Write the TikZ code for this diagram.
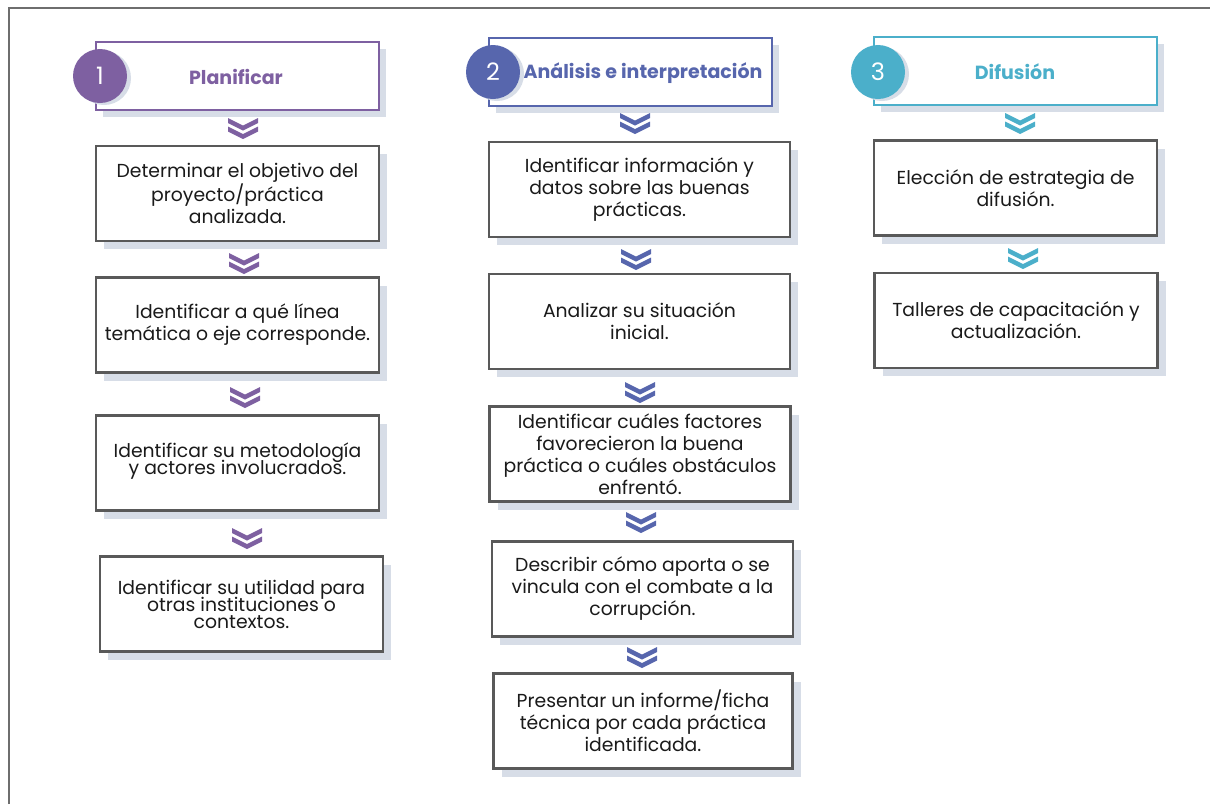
\documentclass[tikz,border=0pt]{standalone}
\usepackage{fontspec}
\setmainfont{Poppins}
\usetikzlibrary{shadows}
\definecolor{purp}{HTML}{7E60A1}
\definecolor{blu}{HTML}{5766AD}
\definecolor{tea}{HTML}{4BAFCA}
\definecolor{shad}{HTML}{D7DDE7}
\definecolor{bord}{HTML}{595959}
\definecolor{txt}{HTML}{1A1A1A}
\definecolor{frame}{HTML}{6E6E6E}
\newcommand\mytightfont{\fontsize{18.8}{17}\selectfont\setlength{\lineskiplimit}{-100pt}}
\begin{document}
\begin{tikzpicture}[x=1pt,y=-1pt,
  stepbox/.style={draw=bord, line width=2.2pt, fill=white, minimum width=#1, minimum height=95pt,
    inner sep=0pt, align=center, text=txt, font=\fontsize{18.8}{22}\selectfont,
    general shadow={fill=shad, shadow xshift=8pt, shadow yshift=-8pt}},
  stepbox/.default=283pt,
  tight/.style={font=\mytightfont},
  headbox/.style={draw=#1, line width=1.8pt, fill=white, minimum width=283pt, minimum height=68pt,
    inner sep=0pt, general shadow={fill=shad, shadow xshift=7pt, shadow yshift=-7pt}},
  headtext/.style={text=#1, font=\bfseries\fontsize{19}{22}\selectfont, inner sep=0pt},
  numcirc/.style={circle, fill=#1, minimum size=54pt, inner sep=0pt, text=white,
    font=\fontsize{24}{28}\selectfont,
    general shadow={fill=shad, shadow xshift=4pt, shadow yshift=-2pt}},
  chevron/.pic={
    \fill (-15,0) -- (0,7.5) -- (15,0) -- (15,5) -- (0,12.5) -- (-15,5) -- cycle;
    \fill (-15,8.5) -- (0,16) -- (15,8.5) -- (15,13.5) -- (0,21) -- (-15,13.5) -- cycle;
  }
]
\useasboundingbox (0,0) rectangle (1210,804);
% outer frame
\draw[frame, line width=2.5pt] (9,804) -- (9,8) -- (1210,8);

% ---------- column 1 ----------
\node[headbox=purp] (h1) at (237.5,76) {};
\node[numcirc=purp] (c1) at (100,76) {1};
\node[headtext=purp] (t1) at (236,77) {Planificar};
\node[stepbox] (a1) at (237.5,193.5) {Determinar el objetivo del\\proyecto/práctica\\analizada.};
\node[stepbox] (a2) at (237.5,325) {Identificar a qué línea\\temática o eje corresponde.};
\node[stepbox, tight] (a3) at (237.5,463) {Identificar su metodología\\y actores involucrados.\\[-8pt]};
\node[stepbox, tight] (a4) at (241.5,604) {Identificar su utilidad para\\otras instituciones o\\contextos.};
\begin{scope}[purp]
\pic at (243,118) {chevron};
\pic at (244,253) {chevron};
\pic at (245,387) {chevron};
\pic at (247,528) {chevron};
\end{scope}

% ---------- column 2 ----------
\node[headbox=blu] (h2) at (630.5,72) {};
\node[numcirc=blu] (c2) at (493,72) {2};
\node[headtext=blu] (t2) at (643,73) {Análisis e interpretación};
\node[stepbox=301pt] (b1) at (639.5,189.5) {Identificar información y\\datos sobre las buenas\\prácticas.};
\node[stepbox=301pt] (b2) at (639.5,321.5) {Analizar su situación\\inicial.};
\node[stepbox=301pt] (b3) at (640,454) {Identificar cuáles factores\\favorecieron la buena\\práctica o cuáles obstáculos\\enfrentó.};
\node[stepbox=301pt] (b4) at (642.5,589) {Describir cómo aporta o se\\vincula con el combate a la\\corrupción.};
\node[stepbox=299pt] (b5) at (643,721) {Presentar un informe/ficha\\técnica por cada práctica\\identificada.};
\begin{scope}[blu]
\pic at (635,113) {chevron};
\pic at (636,249) {chevron};
\pic at (640,382) {chevron};
\pic at (641,512) {chevron};
\pic at (642,647) {chevron};
\end{scope}

% ---------- column 3 ----------
\node[headbox=tea] (h3) at (1015.5,71) {};
\node[numcirc=tea] (c3) at (878,72) {3};
\node[headtext=tea] (t3) at (1015,72) {Difusión};
\node[stepbox] (d1) at (1015.5,188) {Elección de estrategia de\\difusión.};
\node[stepbox] (d2) at (1016,320.5) {Talleres de capacitación y\\actualización.};
\begin{scope}[tea]
\pic at (1020,113) {chevron};
\pic at (1023,248) {chevron};
\end{scope}
\end{tikzpicture}
\end{document}
